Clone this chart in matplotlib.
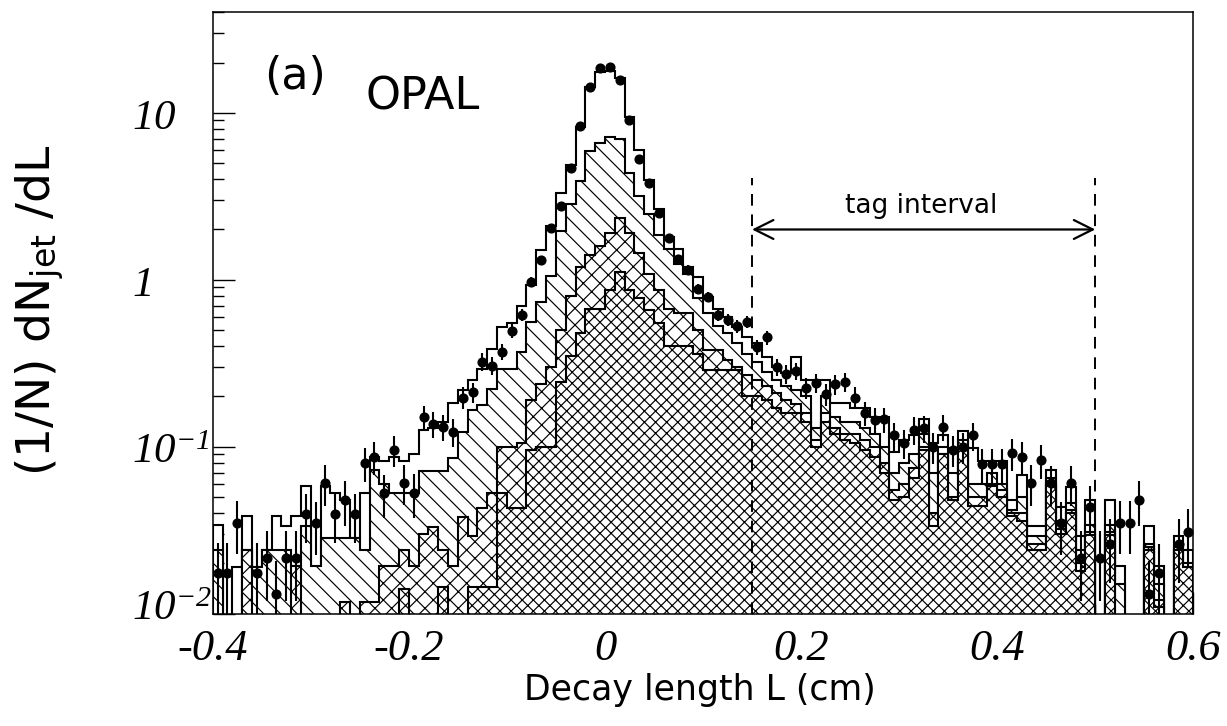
import numpy as np
import matplotlib
matplotlib.use("Agg")
import matplotlib.pyplot as plt
from matplotlib.ticker import FixedLocator, FixedFormatter, LogLocator, NullFormatter
from matplotlib.transforms import ScaledTranslation

plt.rcParams["mathtext.fontset"] = "custom"
plt.rcParams["mathtext.rm"] = "Liberation Serif:italic"
plt.rcParams["mathtext.it"] = "Liberation Serif:italic"
plt.rcParams["mathtext.sf"] = "DejaVu Sans"
plt.rcParams["hatch.linewidth"] = 0.85

# Binning of the decay length distribution (cm)
bin_low, bin_high, n_bins = -0.4, 0.6, 100

# Cumulative Monte Carlo levels, (1/N) dN/dL per bin
total_mc = [0.034, 0.0, 0.019, 0.0385, 0.019, 0.024, 0.0385, 0.0335, 0.0385, 0.058,
            0.019, 0.058, 0.053, 0.048, 0.0286, 0.053, 0.087, 0.082, 0.087, 0.082,
            0.091, 0.126, 0.13, 0.141, 0.183, 0.22, 0.251, 0.294, 0.383, 0.52,
            0.55, 0.70, 0.93, 1.5, 2.1, 3.3, 4.9, 8.2, 14.2, 17.6,
            17.9, 16.2, 9.4, 6.0, 3.95, 2.64, 1.80, 1.52, 1.20, 1.04,
            0.79, 0.67, 0.60, 0.52, 0.456, 0.416, 0.346, 0.301, 0.275, 0.346,
            0.251, 0.251, 0.251, 0.182, 0.182, 0.17, 0.17, 0.151, 0.151, 0.093,
            0.110, 0.117, 0.146, 0.106, 0.117, 0.098, 0.125, 0.098, 0.082, 0.082,
            0.082, 0.048, 0.068, 0.0335, 0.0335, 0.0724, 0.0434, 0.0575, 0.029, 0.048,
            0.0, 0.048, 0.0193, 0.0, 0.0, 0.0335, 0.0193, 0.0, 0.029, 0.024]

diag_level = [0.024, 0.0, 0.0, 0.024, 0.019, 0.024, 0.024, 0.024, 0.0193, 0.0335,
              0.0193, 0.0286, 0.0286, 0.0286, 0.0286, 0.024, 0.0725, 0.06, 0.0526, 0.0526,
              0.0526, 0.0718, 0.0718, 0.0718, 0.086, 0.123, 0.166, 0.178, 0.223, 0.294,
              0.294, 0.371, 0.561, 0.738, 1.05, 1.95, 2.84, 3.9, 5.9, 6.55,
              7.18, 7.0, 4.38, 3.16, 2.48, 1.85, 1.53, 1.25, 1.08, 0.78,
              0.63, 0.53, 0.48, 0.42, 0.36, 0.32, 0.28, 0.25, 0.23, 0.22,
              0.20, 0.13, 0.20, 0.15, 0.14, 0.14, 0.13, 0.12, 0.10, 0.07,
              0.08, 0.09, 0.12, 0.07, 0.10, 0.07, 0.11, 0.06, 0.06, 0.07,
              0.06, 0.042, 0.05, 0.029, 0.029, 0.065, 0.036, 0.046, 0.024, 0.034,
              0.0, 0.034, 0.015, 0.0, 0.0, 0.026, 0.015, 0.0, 0.025, 0.02]

coarse_level = [0.0, 0.0, 0.0, 0.024, 0.0, 0.0, 0.0, 0.0, 0.0193, 0.0,
                0.0, 0.0, 0.0, 0.0117, 0.0, 0.0117, 0.0117, 0.0193, 0.0193, 0.024,
                0.0193, 0.03, 0.033, 0.024, 0.0193, 0.038, 0.029, 0.043, 0.053, 0.10,
                0.10, 0.105, 0.19, 0.239, 0.30, 0.5, 0.8, 1.2, 1.4, 1.6,
                1.9, 2.35, 1.9, 1.44, 1.09, 0.87, 0.67, 0.63, 0.63, 0.50,
                0.38, 0.38, 0.33, 0.30, 0.27, 0.25, 0.23, 0.21, 0.19, 0.18,
                0.16, 0.11, 0.16, 0.13, 0.12, 0.12, 0.11, 0.10, 0.08, 0.055,
                0.06, 0.075, 0.10, 0.04, 0.09, 0.05, 0.10, 0.05, 0.05, 0.06,
                0.055, 0.04, 0.04, 0.026, 0.026, 0.06, 0.032, 0.042, 0.02, 0.031,
                0.0, 0.031, 0.0, 0.0, 0.0, 0.025, 0.012, 0.0, 0.024, 0.019]

dense_level = [0.0, 0.0, 0.0, 0.0, 0.0, 0.0, 0.0, 0.0, 0.0, 0.0,
               0.0, 0.0, 0.0, 0.0, 0.0, 0.0, 0.0, 0.0, 0.0, 0.014,
               0.0, 0.0, 0.0, 0.0145, 0.0, 0.0, 0.0145, 0.0145, 0.0145, 0.053,
               0.043, 0.043, 0.0955, 0.10, 0.10, 0.245, 0.35, 0.48, 0.67, 0.67,
               0.87, 1.12, 0.87, 0.78, 0.66, 0.55, 0.40, 0.40, 0.40, 0.36,
               0.29, 0.29, 0.29, 0.29, 0.20, 0.20, 0.19, 0.17, 0.16, 0.16,
               0.14, 0.10, 0.14, 0.12, 0.11, 0.105, 0.096, 0.087, 0.07, 0.048,
               0.05, 0.065, 0.096, 0.0335, 0.09, 0.048, 0.10, 0.044, 0.044, 0.058,
               0.05, 0.0385, 0.036, 0.024, 0.024, 0.058, 0.03, 0.04, 0.018, 0.0298,
               0.0, 0.0298, 0.0, 0.0, 0.0, 0.024, 0.011, 0.0, 0.024, 0.019]

# Measured distribution (nan: empty bin) and its relative uncertainty
data_vals = [0.0176, 0.0176, 0.0351, np.nan, 0.0176, 0.0217, 0.0132, 0.0217, 0.0217, 0.0394,
             0.0347, 0.0608, 0.0394, 0.048, 0.0394, 0.0794, 0.087, 0.0526, 0.096, 0.061,
             0.053, 0.150, 0.137, 0.132, 0.123, 0.197, 0.212, 0.323, 0.306, 0.37,
             0.495, 0.614, 0.97, 1.31, 2.03, 2.75, 4.7, 8.3, 14.3, 18.5,
             18.8, 15.7, 9.1, 5.3, 3.8, 2.5, 1.77, 1.33, 1.15, 0.88,
             0.79, 0.614, 0.575, 0.528, 0.561, 0.397, 0.452, 0.301, 0.272, 0.285,
             0.226, 0.242, 0.206, 0.237, 0.245, 0.197, 0.160, 0.145, 0.146, 0.117,
             0.105, 0.126, 0.129, 0.100, 0.132, 0.0955, 0.100, 0.117, 0.0787, 0.0787,
             0.0787, 0.0912, 0.0871, 0.0608, 0.0828, 0.0603, 0.0347, 0.0603, 0.0217, 0.0438,
             0.0217, 0.026, 0.0351, 0.0351, 0.048, 0.0131, 0.0175, np.nan, 0.026, 0.0307]

data_relerr = [0.50, 0.50, 0.35, 0.0, 0.50, 0.45, 0.57, 0.45, 0.45, 0.33,
               0.35, 0.27, 0.33, 0.30, 0.33, 0.23, 0.22, 0.29, 0.21, 0.27,
               0.29, 0.17, 0.18, 0.18, 0.19, 0.15, 0.14, 0.12, 0.12, 0.11,
               0.094, 0.084, 0.067, 0.058, 0.046, 0.040, 0.030, 0.023, 0.017, 0.015,
               0.015, 0.017, 0.022, 0.029, 0.034, 0.042, 0.050, 0.057, 0.062, 0.070,
               0.074, 0.084, 0.087, 0.091, 0.088, 0.105, 0.098, 0.12, 0.13, 0.12,
               0.14, 0.13, 0.15, 0.14, 0.13, 0.15, 0.165, 0.17, 0.17, 0.19,
               0.20, 0.19, 0.18, 0.21, 0.18, 0.21, 0.21, 0.19, 0.235, 0.235,
               0.235, 0.22, 0.22, 0.27, 0.23, 0.27, 0.35, 0.27, 0.45, 0.32,
               0.45, 0.41, 0.35, 0.35, 0.30, 0.58, 0.50, 0.0, 0.41, 0.38]

x_major = [-0.4, -0.2, 0.0, 0.2, 0.4, 0.6]
x_major_labels = ["-0.4", "-0.2", "0", "0.2", "0.4", "0.6"]
y_major = [0.01, 0.1, 1.0, 10.0]
y_major_labels = [r"$10^{-2}$", r"$10^{-1}$", r"$1$", r"$10$"]
tag_low, tag_high = 0.15, 0.5

edges = np.linspace(bin_low, bin_high, n_bins + 1)
centers = 0.5 * (edges[:-1] + edges[1:])
floor = 1e-4

fig = plt.figure(figsize=(12.27, 7.26), dpi=100)
ax = fig.add_axes([0.17335, 0.15468, 0.79918, 0.82920])
ax.set_yscale("log")
ax.set_xlim(bin_low, bin_high)
ax.set_ylim(0.01, 40.3)

layers = [(total_mc, None), (diag_level, "\\\\"), (coarse_level, "xx"), (dense_level, "xxx")]
for z, (vals, hatch) in enumerate(layers):
    v = np.asarray(vals, dtype=float)
    v = np.where(v > 0, v, floor)
    ax.stairs(v, edges, baseline=floor, fill=True, facecolor="white",
              edgecolor="black", hatch=hatch, linewidth=1.5, zorder=2 + z)

dv = np.asarray(data_vals, dtype=float)
de = dv * np.asarray(data_relerr, dtype=float)
ax.errorbar(centers, dv, yerr=de, fmt="o", ms=6.3, color="black",
            elinewidth=1.5, capsize=0, zorder=10)

# Tag interval markers
ax.vlines([tag_low, tag_high], 0.01, 4.05, colors="black", linewidth=1.4,
          linestyles=(0, (6, 4.5)), zorder=11)
ax.annotate("", xy=(tag_low, 2.0), xytext=(tag_high, 2.0),
            arrowprops=dict(arrowstyle="<->", lw=1.6, color="black",
                            mutation_scale=34, shrinkA=0, shrinkB=0), zorder=11)
ax.text(0.5 * (tag_low + tag_high) - 0.002, 2.75, "tag interval", ha="center", va="center",
        fontsize=19, family="DejaVu Sans", zorder=12)

ax.text(0.084, 0.893, "(a)", transform=ax.transAxes, ha="center", va="center",
        fontsize=32, family="DejaVu Sans")
ax.text(0.2145, 0.858, "OPAL", transform=ax.transAxes, ha="center", va="center",
        fontsize=32, family="DejaVu Sans")

# Axes, ticks and labels
for sp in ax.spines.values():
    sp.set_linewidth(1.1)
    sp.set_zorder(20)
ax.xaxis.set_major_locator(FixedLocator(x_major))
ax.xaxis.set_major_formatter(FixedFormatter(x_major_labels))
ax.xaxis.set_minor_locator(FixedLocator(np.arange(-0.4, 0.6001, 0.05)))
ax.yaxis.set_major_locator(FixedLocator(y_major))
ax.yaxis.set_major_formatter(FixedFormatter(y_major_labels))
ax.yaxis.set_minor_locator(LogLocator(base=10, subs=np.arange(2, 10)))
ax.yaxis.set_minor_formatter(NullFormatter())
ax.tick_params(which="both", direction="in", top=False, right=False, width=1.0)
ax.tick_params(axis="y", which="major", length=16)
ax.tick_params(axis="y", which="minor", length=8)
ax.tick_params(axis="x", which="major", length=16, pad=11)
ax.tick_params(axis="x", which="minor", length=7)
for lab in ax.get_xticklabels():
    lab.set_fontfamily("Liberation Serif")
    lab.set_fontstyle("italic")
    lab.set_fontsize(32)
ax.tick_params(axis="y", which="major", pad=58, labelsize=31)
ylabels = ax.get_yticklabels()
for lab in ylabels:
    lab.set_horizontalalignment("left")
# lift the bottom decade label clear of the first x tick label
ylabels[0].set_transform(ylabels[0].get_transform()
                         + ScaledTranslation(0, 7 / 72, fig.dpi_scale_trans))

ax.set_xlabel("Decay length L (cm)", fontsize=25, family="DejaVu Sans")
ax.xaxis.set_label_coords(0.497, -0.127)
ax.xaxis.label.set_va("center")
ax.set_ylabel(r"(1/N) dN$_{\mathsf{jet}}$ /dL", fontsize=34, family="DejaVu Sans")
ax.yaxis.set_label_coords(-0.176, 0.504)
ax.yaxis.label.set_va("center")

fig.savefig("out.png", dpi=100)
